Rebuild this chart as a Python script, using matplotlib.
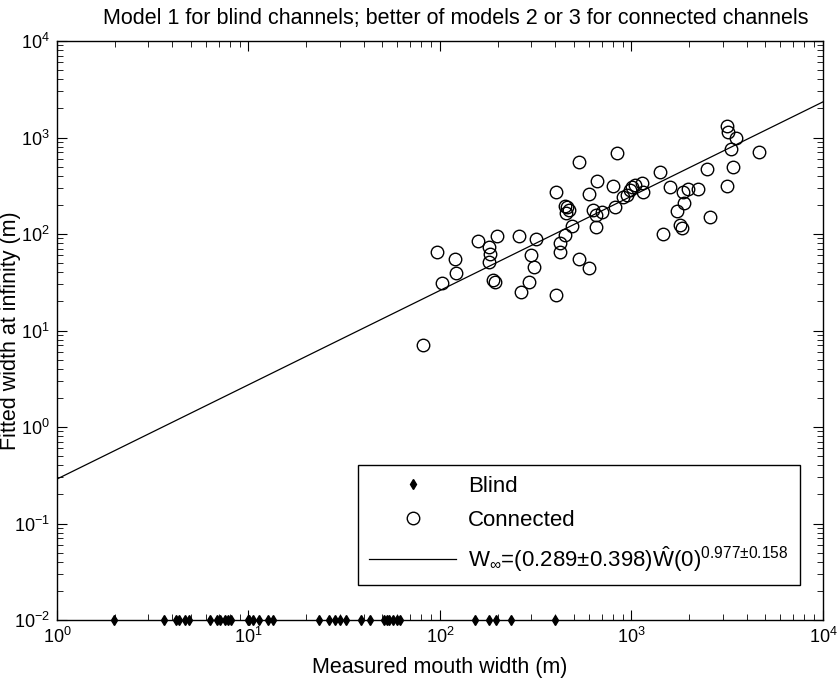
"""Fitted width at infinity vs measured mouth width, log-log with power-law fit."""

import matplotlib

matplotlib.use("Agg")
import matplotlib.pyplot as plt
import numpy as np

plt.rcParams["font.family"] = ["Liberation Sans", "DejaVu Sans"]
plt.rcParams["mathtext.fontset"] = "custom"
plt.rcParams["mathtext.rm"] = "Liberation Sans"
plt.rcParams["mathtext.it"] = "Liberation Sans:italic"
plt.rcParams["mathtext.bf"] = "Liberation Sans:bold"

# blind channels: mouth width only (plotted on the lower axis limit)
blind_width = [1.99, 3.61, 4.19, 4.36, 4.66, 4.89, 6.32, 6.85, 7.09, 7.58, 7.84, 8.11,
               9.93, 10.1, 10.5, 11.4, 12.6, 13.5, 23.4, 26.4, 28.3, 29.9, 32.4, 38.8,
               43.0, 50.9, 53.0, 54.5, 56.7, 59.5, 61.5, 153, 181, 196, 234, 399]

# connected channels: measured mouth width and fitted width at infinity
conn_width = [81.5, 96.1, 102, 120, 122, 158, 181, 182, 181, 190, 194, 198,
              259, 264, 293, 298, 310, 317, 403, 403, 423, 423, 450, 459,
              452, 470, 455, 487, 534, 534, 602, 602, 658, 627, 698, 653,
              653, 798, 837, 820, 906, 1002, 1043, 1130, 1153, 982, 944, 1409,
              1589, 1864, 1982, 2233, 1880, 1722, 1792, 1828, 1466, 2488, 2570, 3141,
              3206, 3514, 3296, 4648, 3377, 3164]
conn_winf = [7.1, 65.6, 31.3, 54.7, 39.2, 84.5, 73.8, 62.1, 51.6, 33.3, 32.1, 95.3,
             95.3, 25.2, 32.1, 60.5, 45.8, 88.2, 271, 23.3, 80.7, 65.6, 97.7, 192,
             195, 178, 166, 121, 561, 54.7, 260, 44.2, 357, 177, 170, 157,
             119, 314, 686, 189, 244, 309, 322, 335, 274, 286, 254, 443,
             305, 274, 290, 290, 208, 174, 124, 115, 100, 468, 149, 1316,
             1148, 981, 755, 713, 491, 314]

# power-law fit W_inf = a * W0^b
fit_a = 0.289
fit_b = 0.977
fit_label = r"W$_\infty$=(0.289±0.398)$\hat{\mathrm{W}}$(0)$^{0.977±0.158}$"


def main():
    fig = plt.figure(figsize=(8.38, 6.89), dpi=100)
    ax = fig.add_axes([0.068, 0.1001, 0.914, 0.8404])

    ax.plot(blind_width, np.full(len(blind_width), 1e-2), linestyle="none", marker="d",
            color="black", markersize=5, clip_on=False, zorder=5, label="Blind")
    ax.plot(conn_width, conn_winf, linestyle="none", marker="o", markerfacecolor="none",
            markeredgecolor="black", markersize=9, markeredgewidth=1.0, label="Connected")
    xf = np.logspace(0, 4, 200)
    ax.plot(xf, fit_a * xf ** fit_b, color="black", linewidth=0.9, label=fit_label)

    ax.set_xscale("log")
    ax.set_yscale("log")
    ax.set_xlim(1, 1e4)
    ax.set_ylim(1e-2, 1e4)
    ax.set_xticks([1, 10, 100, 1000, 10000])
    ax.set_yticks([1e-2, 1e-1, 1, 10, 100, 1000, 1e4])
    ax.tick_params(which="both", direction="in", top=True, right=True, labelsize=13)
    ax.tick_params(which="major", length=7, pad=5)
    ax.tick_params(which="minor", length=4)
    for sp in ax.spines.values():
        sp.set_linewidth(1.0)

    ax.set_xlabel("Measured mouth width (m)", fontsize=15.5, labelpad=7)
    ax.set_ylabel("Fitted width at infinity (m)", fontsize=15.5)
    ax.yaxis.set_label_coords(-0.047, 0.5)
    ax.set_title("Model 1 for blind channels; better of models 2 or 3 for connected channels",
                 fontsize=15.5, pad=12, x=0.52)

    leg = ax.legend(loc="lower right", bbox_to_anchor=(0.970, 0.060), fontsize=16,
                    frameon=True, fancybox=False, edgecolor="black", framealpha=1,
                    handlelength=3.9, handletextpad=0.55, borderpad=0.5,
                    labelspacing=0.6, borderaxespad=0)
    leg.get_frame().set_linewidth(1.0)

    fig.savefig("out.png", dpi=100)
    plt.close(fig)


if __name__ == "__main__":
    main()
